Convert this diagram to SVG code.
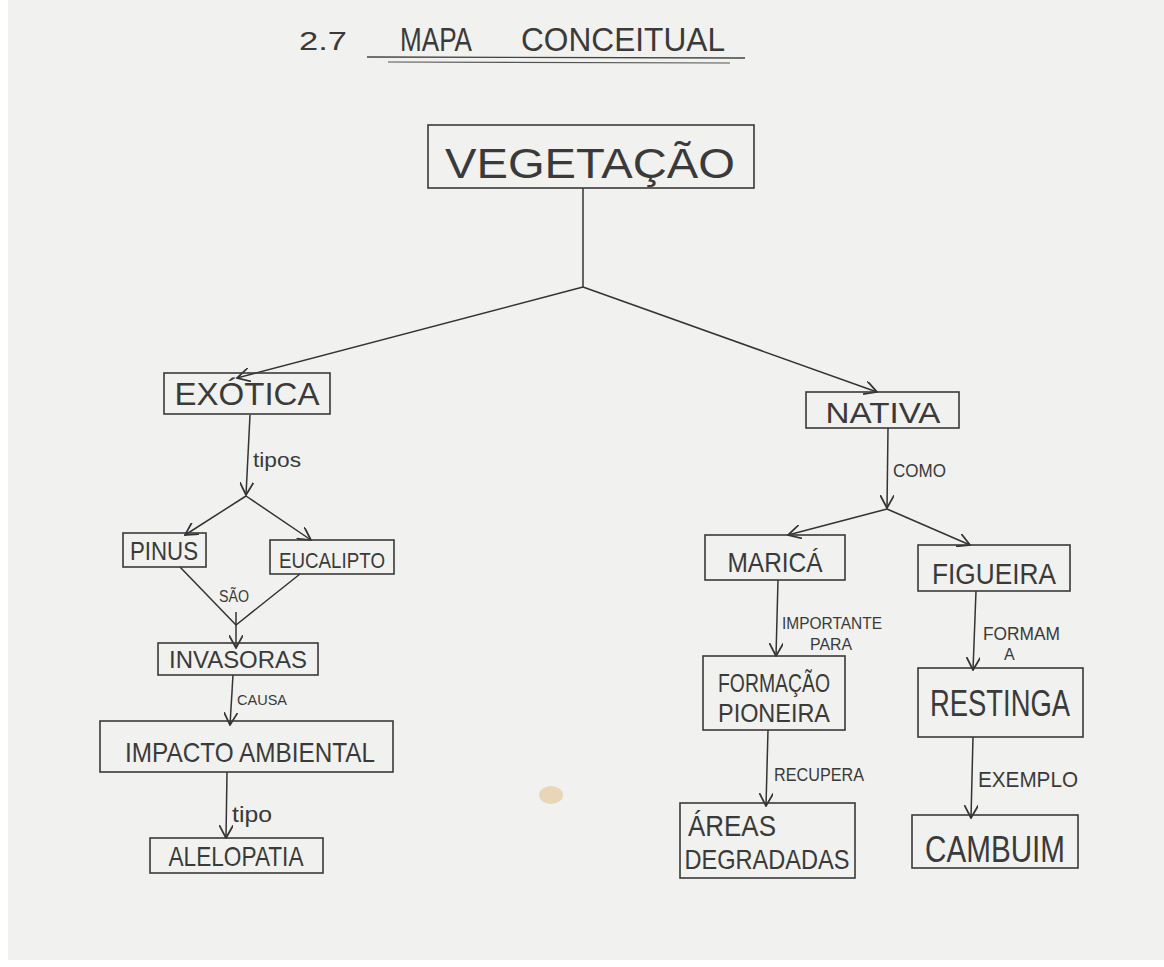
<svg xmlns="http://www.w3.org/2000/svg" width="1164" height="967" viewBox="0 0 1164 967">
<defs>
<style>
.box{fill:none;stroke:#3a3a3a;stroke-width:1.6}
.t{font-family:"Liberation Sans",Arial,sans-serif;fill:#3a3a3a;text-anchor:middle}
.lbl{font-family:"Liberation Sans",Arial,sans-serif;fill:#3a3a3a}
.c{fill:none;stroke:#333;stroke-width:1.5}
</style>
<marker id="ah" viewBox="0 0 12 12" refX="11" refY="6" markerWidth="14" markerHeight="14" markerUnits="userSpaceOnUse" orient="auto">
<path d="M0,0 L11,6 L0,12" fill="none" stroke="#333" stroke-width="1.5"/>
</marker>
</defs>
<rect width="1164" height="967" fill="#ffffff"/>
<rect x="8" y="0" width="1156" height="960" fill="#f1f1ef"/>
<ellipse cx="551" cy="795" rx="12" ry="9" fill="#e6cfa8" opacity="0.8"/>

<g id="title">
<text class="lbl" x="299" y="50" font-size="26" textLength="48" lengthAdjust="spacingAndGlyphs">2.7</text>
<text class="lbl" x="400" y="51" font-size="34" textLength="72" lengthAdjust="spacingAndGlyphs">MAPA</text>
<text class="lbl" x="521" y="51" font-size="34" textLength="204" lengthAdjust="spacingAndGlyphs">CONCEITUAL</text>
<line x1="367" y1="57" x2="745" y2="58" stroke="#444" stroke-width="1.4"/>
<line x1="388" y1="62" x2="730" y2="63" stroke="#555" stroke-width="1.2"/>
</g>

<g id="connectors">
<path class="c" d="M583,188 L583,287"/>
<path class="c" d="M583,287 L237,378" marker-end="url(#ah)"/>
<path class="c" d="M583,287 L877,392" marker-end="url(#ah)"/>
<path class="c" d="M250,415 L246,495" marker-end="url(#ah)"/>
<path class="c" d="M246,496 L185,535" marker-end="url(#ah)"/>
<path class="c" d="M246,496 L311,540" marker-end="url(#ah)"/>
<path class="c" d="M180,567 L236,625 L300,574"/>
<path class="c" d="M236,612 L236,648" marker-end="url(#ah)"/>
<path class="c" d="M233,675 L230,725" marker-end="url(#ah)"/>
<path class="c" d="M227,772 L226,838" marker-end="url(#ah)"/>
<path class="c" d="M888,428 L887,508" marker-end="url(#ah)"/>
<path class="c" d="M887,509 L788,535" marker-end="url(#ah)"/>
<path class="c" d="M887,509 L970,545" marker-end="url(#ah)"/>
<path class="c" d="M778,580 L776,656" marker-end="url(#ah)"/>
<path class="c" d="M768,730 L766,806" marker-end="url(#ah)"/>
<path class="c" d="M976,591 L973,670" marker-end="url(#ah)"/>
<path class="c" d="M973,737 L971,818" marker-end="url(#ah)"/>
<text class="lbl" x="253" y="467" font-size="20" textLength="48" lengthAdjust="spacingAndGlyphs">tipos</text>
<text class="lbl" x="219" y="602" font-size="16" textLength="30" lengthAdjust="spacingAndGlyphs">SÃO</text>
<text class="lbl" x="237" y="705" font-size="14" textLength="50" lengthAdjust="spacingAndGlyphs">CAUSA</text>
<text class="lbl" x="232" y="822" font-size="22" textLength="40" lengthAdjust="spacingAndGlyphs">tipo</text>
<text class="lbl" x="893" y="477" font-size="18" textLength="53" lengthAdjust="spacingAndGlyphs">COMO</text>
<text class="lbl" x="782" y="629" font-size="16" textLength="100" lengthAdjust="spacingAndGlyphs">IMPORTANTE</text>
<text class="lbl" x="810" y="650" font-size="16" textLength="42" lengthAdjust="spacingAndGlyphs">PARA</text>
<text class="lbl" x="774" y="781" font-size="18" textLength="90" lengthAdjust="spacingAndGlyphs">RECUPERA</text>
<text class="lbl" x="983" y="640" font-size="18" textLength="77" lengthAdjust="spacingAndGlyphs">FORMAM</text>
<text class="lbl" x="1004" y="660" font-size="16">A</text>
<text class="lbl" x="978" y="787" font-size="22" textLength="100" lengthAdjust="spacingAndGlyphs">EXEMPLO</text>
</g>

<g id="vegetacao">
<rect class="box" x="428" y="125" width="326" height="63"/>
<text class="t" x="590" y="178" font-size="42" textLength="290" lengthAdjust="spacingAndGlyphs">VEGETAÇÃO</text>
</g>
<g id="exotica">
<rect class="box" x="164" y="373" width="166" height="41"/>
<text class="t" x="247" y="405" font-size="32" textLength="145" lengthAdjust="spacingAndGlyphs">EXÓTICA</text>
</g>
<g id="pinus">
<rect class="box" x="123" y="533" width="83" height="34"/>
<text class="t" x="164" y="560" font-size="26" textLength="68" lengthAdjust="spacingAndGlyphs">PINUS</text>
</g>
<g id="eucalipto">
<rect class="box" x="270" y="540" width="124" height="34"/>
<text class="t" x="332" y="568" font-size="22" textLength="106" lengthAdjust="spacingAndGlyphs">EUCALIPTO</text>
</g>
<g id="invasoras">
<rect class="box" x="158" y="643" width="160" height="32"/>
<text class="t" x="238" y="668" font-size="24" textLength="138" lengthAdjust="spacingAndGlyphs">INVASORAS</text>
</g>
<g id="impacto">
<rect class="box" x="100" y="721" width="293" height="51"/>
<text class="t" x="250" y="762" font-size="28" textLength="250" lengthAdjust="spacingAndGlyphs">IMPACTO AMBIENTAL</text>
</g>
<g id="alelopatia">
<rect class="box" x="150" y="838" width="173" height="35"/>
<text class="t" x="236" y="866" font-size="28" textLength="135" lengthAdjust="spacingAndGlyphs">ALELOPATIA</text>
</g>
<g id="nativa">
<rect class="box" x="806" y="392" width="153" height="36"/>
<text class="t" x="883" y="423" font-size="30" textLength="115" lengthAdjust="spacingAndGlyphs">NATIVA</text>
</g>
<g id="marica">
<rect class="box" x="705" y="535" width="140" height="45"/>
<text class="t" x="775" y="572" font-size="28" textLength="95" lengthAdjust="spacingAndGlyphs">MARICÁ</text>
</g>
<g id="figueira">
<rect class="box" x="918" y="545" width="152" height="46"/>
<text class="t" x="994" y="584" font-size="30" textLength="124" lengthAdjust="spacingAndGlyphs">FIGUEIRA</text>
</g>
<g id="formacao">
<rect class="box" x="703" y="656" width="142" height="74"/>
<text class="t" x="774" y="692" font-size="26" textLength="112" lengthAdjust="spacingAndGlyphs">FORMAÇÃO</text>
<text class="t" x="774" y="722" font-size="26" textLength="112" lengthAdjust="spacingAndGlyphs">PIONEIRA</text>
</g>
<g id="areas">
<rect class="box" x="680" y="803" width="175" height="75"/>
<text class="t" x="732" y="836" font-size="30" textLength="88" lengthAdjust="spacingAndGlyphs">ÁREAS</text>
<text class="t" x="767" y="869" font-size="28" textLength="165" lengthAdjust="spacingAndGlyphs">DEGRADADAS</text>
</g>
<g id="restinga">
<rect class="box" x="918" y="668" width="165" height="69"/>
<text class="t" x="1000" y="716" font-size="36" textLength="140" lengthAdjust="spacingAndGlyphs">RESTINGA</text>
</g>
<g id="cambuim">
<rect class="box" x="912" y="815" width="166" height="53"/>
<text class="t" x="995" y="862" font-size="36" textLength="140" lengthAdjust="spacingAndGlyphs">CAMBUIM</text>
</g>
</svg>
